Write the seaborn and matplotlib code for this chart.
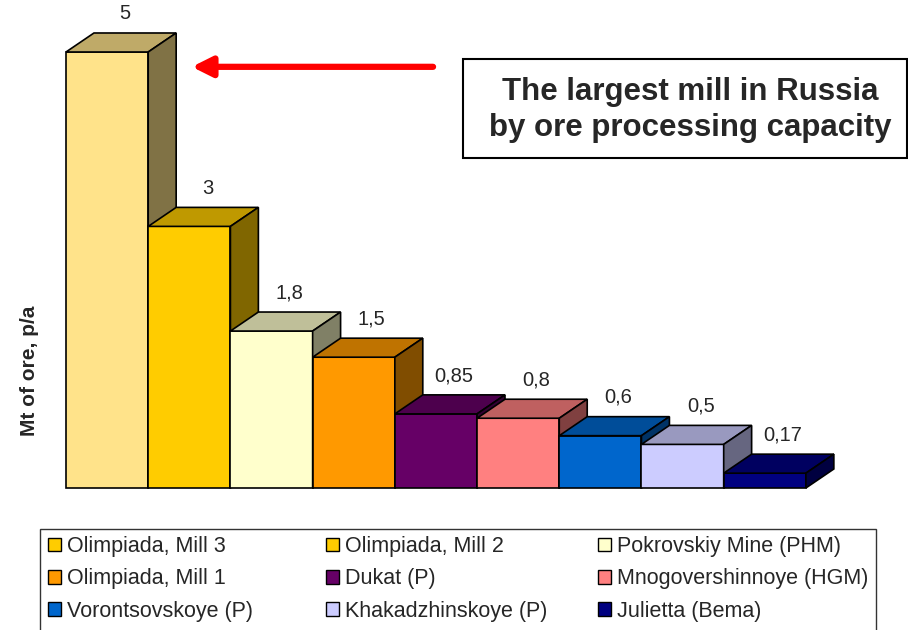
import seaborn as sns
import matplotlib.pyplot as plt
import matplotlib.colors as mcolors
from matplotlib.patches import Polygon, Patch, Rectangle

sites = ["Olimpiada, Mill 3", "Olimpiada, Mill 2", "Pokrovskiy Mine (PHM)",
         "Olimpiada, Mill 1", "Dukat (P)", "Mnogovershinnoye (HGM)",
         "Vorontsovskoye (P)", "Khakadzhinskoye (P)", "Julietta (Bema)"]
capacity = [5, 3, 1.8, 1.5, 0.85, 0.8, 0.6, 0.5, 0.17]
bar_colors = ["#FFE38A", "#FFCC00", "#FFFFCC", "#FF9900", "#660066",
              "#FF8080", "#0066CC", "#CCCCFF", "#000080"]
legend_colors = ["#FFCC00"] + bar_colors[1:]
callout = "The largest mill in Russia\nby ore processing capacity"

sns.set_style("white")
plt.rcParams["font.family"] = ["Liberation Sans", "DejaVu Sans"]

W, H = 908, 630
fig = plt.figure(figsize=(W / 100, H / 100), dpi=100)
ax = fig.add_axes([66 / W, (H - 488) / H, 781 / W, 488 / H])

sns.barplot(x=sites, y=capacity, hue=sites, palette=bar_colors, legend=False,
            width=1.0, edgecolor="black", linewidth=1.2, saturation=1, ax=ax)

# fake 3D: depth offsets in data units
dx, dy = 0.34, 0.218
for i, p in enumerate(ax.patches):
    x0, w, h = p.get_x(), p.get_width(), p.get_height()
    rgb = mcolors.to_rgb(p.get_facecolor())
    top_c = tuple(c * 0.75 for c in rgb)
    side_c = tuple(c * 0.5 for c in rgb)
    p.set_zorder(3 * i + 2)
    p.set_clip_on(False)
    top = Polygon([(x0, h), (x0 + dx, h + dy), (x0 + w + dx, h + dy), (x0 + w, h)],
                  closed=True, facecolor=top_c, edgecolor="black", lw=1.2,
                  zorder=3 * i + 3, clip_on=False)
    side = Polygon([(x0 + w, 0), (x0 + w, h), (x0 + w + dx, h + dy), (x0 + w + dx, dy)],
                   closed=True, facecolor=side_c, edgecolor="black", lw=1.2,
                   zorder=3 * i + 4, clip_on=False)
    ax.add_patch(top)
    ax.add_patch(side)
    ax.text(x0 + w / 2 + 0.22, h + dy + 0.22, f"{capacity[i]:g}".replace(".", ","),
            ha="center", va="center", fontsize=14.5, zorder=40)

ax.set_xlim(-0.5, 9.0)
ax.set_ylim(0, 488 / 87.2)
ax.set_xticks([])
ax.set_yticks([])
sns.despine(ax=ax, left=True, bottom=True)
ax.set_ylabel("Mt of ore, p/a", fontsize=15, fontweight="bold", va="center")
ax.yaxis.set_label_coords(-0.047, (488 - 371) / 488)

# red arrow pointing at the largest bar
ax.annotate("", xy=(1.03, 4.83), xytext=(3.965, 4.83),
            arrowprops=dict(arrowstyle="-|>,head_length=0.6,head_width=0.3",
                            color="red", lw=4.5, mutation_scale=20,
                            shrinkA=0, shrinkB=0))

# callout box
fig.patches.append(Rectangle((463 / W, 1 - 158 / H), 444 / W, 99 / H,
                             transform=fig.transFigure, facecolor="white",
                             edgecolor="black", lw=1.5))
fig.text(690 / W, 1 - 110 / H, callout, ha="center", va="center",
         fontsize=22.5, fontweight="bold", linespacing=1.25)

# legend: three equal-width columns inside one frame
fig.patches.append(Rectangle((40 / W, -0.05), 836 / W, 1 - 529 / H + 0.05,
                             transform=fig.transFigure, facecolor="white",
                             edgecolor="#333333", lw=1))
handles = [Patch(facecolor=c, edgecolor="black", lw=1) for c in legend_colors]
col_x = [48, 326, 598]
for col in range(3):
    idx = [col, col + 3, col + 6]
    fig.legend([handles[k] for k in idx], [sites[k] for k in idx],
               loc="upper left", bbox_to_anchor=(col_x[col] / W, 1 - 536 / H),
               fontsize=15.5, frameon=False, borderpad=0, borderaxespad=0,
               handlelength=0.6, handleheight=0.6, handletextpad=0.3,
               labelspacing=0.53)

fig.savefig("out.png", dpi=100)
